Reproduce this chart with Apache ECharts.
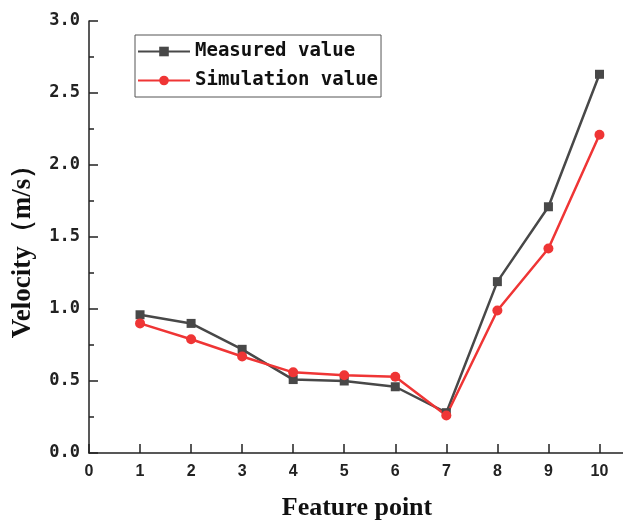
<!DOCTYPE html>
<html>
<head>
<meta charset="utf-8">
<script src="https://cdn.jsdelivr.net/npm/echarts@6/dist/echarts.min.js"></script>
<style>
  html, body { margin: 0; padding: 0; background: #fff; }
  #chart { width: 623px; height: 522px; }
</style>
</head>
<body>
<div id="chart"></div>
<script>
// feature points 1..10
var featurePoints = [1, 2, 3, 4, 5, 6, 7, 8, 9, 10];
var measuredValues = [0.96, 0.90, 0.72, 0.51, 0.50, 0.46, 0.28, 1.19, 1.71, 2.63];
var simulationValues = [0.90, 0.79, 0.67, 0.56, 0.54, 0.53, 0.26, 0.99, 1.42, 2.21];
var xTickValues = [0, 1, 2, 3, 4, 5, 6, 7, 8, 9, 10];

function pairs(xs, ys) {
    var res = [];
    for (var i = 0; i < xs.length; i++) {
        res.push([xs[i], ys[i]]);
    }
    return res;
}

var chart = echarts.init(document.getElementById('chart'), null, { renderer: 'canvas' });

var labelFont = 'DejaVu Sans Mono';
var nameFont = 'Liberation Serif';

var option = {
    backgroundColor: '#fff',
    animation: false,
    grid: {
        left: 89,
        right: -2,
        top: 21,
        bottom: 69,
        containLabel: false,
        outerBoundsMode: 'none'
    },
    legend: {
        orient: 'vertical',
        left: 135,
        top: 35,
        padding: [7, 3, 7, 2],
        itemGap: 10,
        itemWidth: 52,
        itemHeight: 12,
        borderColor: '#555',
        borderWidth: 1,
        textStyle: {
            fontFamily: labelFont,
            fontWeight: 'bold',
            fontSize: 19,
            color: '#111'
        },
        data: ['Measured value', 'Simulation value']
    },
    xAxis: {
        type: 'value',
        min: 0,
        max: 10.5,
        interval: 1,
        name: 'Feature point',
        nameLocation: 'middle',
        nameGap: 42,
        nameTextStyle: {
            fontFamily: nameFont,
            fontWeight: 'bold',
            fontSize: 26,
            color: '#111'
        },
        axisLine: { show: true, onZero: false, lineStyle: { color: '#222', width: 1.5 } },
        axisTick: {
            show: true,
            inside: true,
            length: 9,
            customValues: xTickValues,
            lineStyle: { color: '#222', width: 1.5 }
        },
        axisLabel: {
            customValues: xTickValues,
            margin: 11,
            fontFamily: 'Liberation Sans',
            fontWeight: 'bold',
            fontSize: 16,
            color: '#222'
        },
        splitLine: { show: false }
    },
    yAxis: {
        type: 'value',
        min: 0,
        max: 3,
        interval: 0.5,
        name: 'Velocity（m/s）',
        nameLocation: 'middle',
        nameGap: 52,
        nameRotate: 90,
        nameTextStyle: {
            fontFamily: nameFont,
            fontWeight: 'bold',
            fontSize: 27,
            color: '#111',
            padding: [0, 16, 0, 0]
        },
        axisLine: { show: true, lineStyle: { color: '#222', width: 1.5 } },
        axisTick: {
            show: true,
            inside: true,
            length: 9,
            lineStyle: { color: '#222', width: 1.5 }
        },
        minorTick: {
            show: true,
            splitNumber: 2,
            length: 5,
            lineStyle: { color: '#222', width: 1.5 }
        },
        axisLabel: {
            margin: 9,
            fontFamily: labelFont,
            fontWeight: 'bold',
            fontSize: 17,
            color: '#222',
            formatter: function (v) {
                return v.toFixed(1);
            }
        },
        splitLine: { show: false }
    },
    series: [
        {
            name: 'Measured value',
            type: 'line',
            symbol: 'rect',
            symbolSize: 9,
            color: '#484848',
            lineStyle: { width: 2.5, color: '#484848' },
            itemStyle: { color: '#484848' },
            data: pairs(featurePoints, measuredValues)
        },
        {
            name: 'Simulation value',
            type: 'line',
            symbol: 'circle',
            symbolSize: 10,
            color: '#ef3535',
            lineStyle: { width: 2.5, color: '#ef3535' },
            itemStyle: { color: '#ef3535' },
            data: pairs(featurePoints, simulationValues)
        }
    ]
};

chart.setOption(option);
</script>
</body>
</html>
